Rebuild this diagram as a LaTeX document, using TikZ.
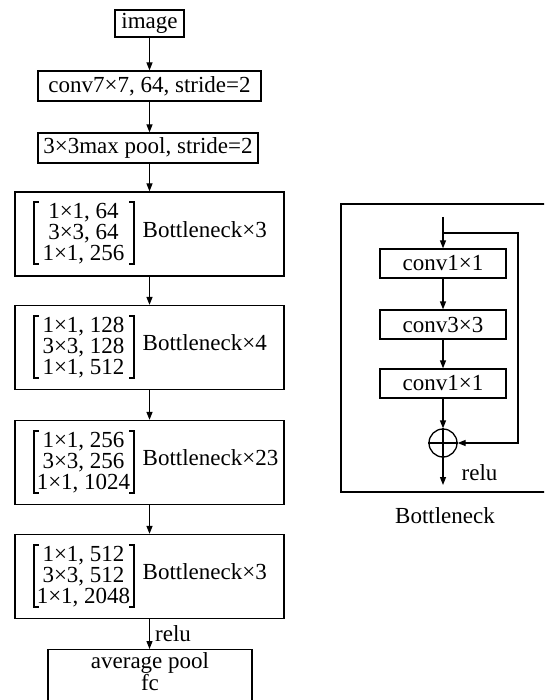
\documentclass[tikz,border=0pt]{standalone}
\usepackage{fontspec}
\setmainfont{Liberation Serif}
\usetikzlibrary{arrows.meta}
\tikzset{
  box/.style={draw, line width=1.3pt, inner sep=0pt, font=\fontsize{23}{21}\selectfont},
  txt/.style={inner sep=0pt, font=\fontsize{23}{21}\selectfont},
  arr/.style={-{Triangle[length=8pt,width=6pt]}, line width=1.3pt},
  ln/.style={line width=1.3pt},
  brk/.style={line width=2pt},
}
\newcommand{\resblock}[6]{%
  \node[box, minimum width=269pt, minimum height=84pt] (#1) at (149.5,#2) {};
  \node[txt, align=center] (#1m) at (83.5,#2) {#3\\#4\\#5};
  \draw[brk] (38.5,{#2-32}) -- (34,{#2-32}) -- (34,{#2+30}) -- (38.5,{#2+30});
  \draw[brk] (129,{#2-32}) -- (133.5,{#2-32}) -- (133.5,{#2+30}) -- (129,{#2+30});
  \node[txt, anchor=base west] (#1b) at (142.5,{#2+3.3}) {Bottleneck×#6};
}
\begin{document}
\begin{tikzpicture}[x=1pt,y=-1pt]
\clip (0,0) rectangle (544,700);
% left column
\node[box, minimum width=69pt, minimum height=27pt] (img) at (149.5,23.5) {image};
\node[box, minimum width=223pt, minimum height=30pt] (conv7) at (149.5,86) {conv7×7, 64, stride=2};
\node[box, minimum width=220pt, minimum height=30pt] (pool) at (148,148) {3×3max pool, stride=2};
\resblock{b1}{234}{1×1, 64}{3×3, 64}{1×1, 256}{3}
\resblock{b2}{347.5}{1×1, 128}{3×3, 128}{1×1, 512}{4}
\resblock{b3}{462.5}{1×1, 256}{3×3, 256}{1×1, 1024}{23}
\resblock{b4}{576.5}{1×1, 512}{3×3, 512}{1×1, 2048}{3}
\node[box, anchor=north, minimum width=204pt, align=center, inner ysep=3pt] (final) at (150,649)
  {average pool\\fc\rule[-40pt]{0pt}{40pt}};
\draw[arr] (img.south) -- (img.south |- conv7.north);
\draw[arr] (conv7.south) -- (conv7.south |- pool.north);
\draw[arr] (pool.south -| b1.north) -- (b1.north);
\draw[arr] (b1.south) -- (b2.north);
\draw[arr] (b2.south) -- (b3.north);
\draw[arr] (b3.south) -- (b4.north);
\draw[arr] (b4.south) -- node[txt, anchor=west, xshift=5pt] (relu1) {relu} (b4.south |- final.north);
% right: bottleneck detail
\node[draw, ln, minimum width=206pt, minimum height=288pt, inner sep=0pt] (frame) at (444,348) {};
\node[box, minimum width=126pt, minimum height=29pt] (c1) at (443,263.5) {conv1×1};
\node[box, minimum width=126pt, minimum height=29pt] (c2) at (443,324.5) {conv3×3};
\node[box, minimum width=126pt, minimum height=29pt] (c3) at (443,383.5) {conv1×1};
\node[draw, ln, circle, minimum size=28pt, inner sep=0pt] (plus) at (443,443) {};
\draw[ln] (plus.north) -- (plus.south);
\draw[ln] (plus.west) -- (plus.east);
\coordinate (in) at (443,217);
\coordinate (split) at (443,233);
\coordinate (skipr) at (518,233);
\coordinate (out) at (443,485);
\draw[arr] (in) -- (c1.north);
\draw[arr] (c1.south) -- (c2.north);
\draw[arr] (c2.south) -- (c3.north);
\draw[arr] (c3.south) -- (plus.north);
\draw[arr] (split) -- (skipr) |- (plus.east);
\draw[arr] (plus.south) -- (out);
\node[txt, anchor=west] (relu2) at (461.5,472.5) {relu};
\node[txt] (cap) at (445,516) {Bottleneck};
\end{tikzpicture}
\end{document}
